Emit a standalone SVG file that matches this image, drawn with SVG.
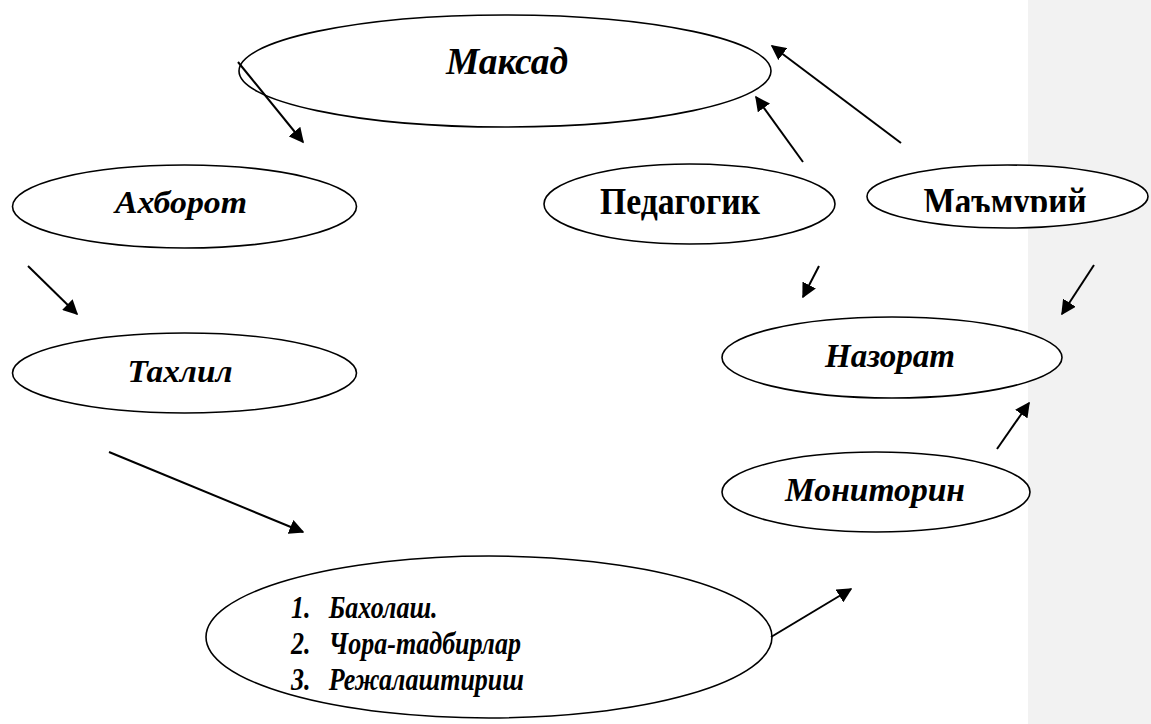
<svg xmlns="http://www.w3.org/2000/svg" width="1151" height="724" viewBox="0 0 1151 724">
<style>
.node ellipse{fill:#fff;stroke:#000;stroke-width:1.6}
.bi{font-family:"Liberation Serif","Times New Roman",serif;font-weight:bold;font-style:italic;fill:#000}
.b{font-family:"Liberation Serif","Times New Roman",serif;font-weight:bold;fill:#000}
.conn line{stroke:#000;stroke-width:2;marker-end:url(#ah)}
</style>
<defs>
<marker id="ah" viewBox="0 0 10 10" refX="9" refY="5" markerWidth="7.5" markerHeight="7.5" markerUnits="strokeWidth" orient="auto">
<path d="M0,0 L10,5 L0,10 z" fill="#000"/>
</marker>
<clipPath id="clipM"><rect x="860" y="150" width="300" height="62"/></clipPath>
</defs>
<rect x="0" y="0" width="1151" height="724" fill="#fff"/>
<rect x="1028" y="0" width="123" height="724" fill="#f2f2f2"/>

<g id="maksad" class="node">
<ellipse cx="505" cy="71" rx="266" ry="56"/>
<text class="bi" x="507" y="74" font-size="38" text-anchor="middle" textLength="122" lengthAdjust="spacingAndGlyphs">Максад</text>
</g>
<g id="axborot" class="node">
<ellipse cx="184.5" cy="206.5" rx="172" ry="41.5"/>
<text class="bi" x="181" y="213" font-size="31" text-anchor="middle" textLength="132" lengthAdjust="spacingAndGlyphs">Ахборот</text>
</g>
<g id="pedagogik" class="node">
<ellipse cx="689.5" cy="204" rx="145.5" ry="40"/>
<text class="b" x="680" y="214" font-size="37" text-anchor="middle" textLength="160" lengthAdjust="spacingAndGlyphs">Педагогик</text>
</g>
<g id="mamuriy" class="node">
<ellipse cx="1007.5" cy="196.5" rx="140.5" ry="31.5"/>
<text class="b" x="1005" y="214" font-size="37" text-anchor="middle" textLength="163" lengthAdjust="spacingAndGlyphs" clip-path="url(#clipM)">Маъмурий</text>
</g>
<g id="taxlil" class="node">
<ellipse cx="184.5" cy="373" rx="172" ry="40"/>
<text class="bi" x="180" y="382" font-size="31" text-anchor="middle" textLength="105" lengthAdjust="spacingAndGlyphs">Тахлил</text>
</g>
<g id="nazorat" class="node">
<ellipse cx="892" cy="357.5" rx="170" ry="40.5"/>
<text class="bi" x="890" y="367" font-size="33" text-anchor="middle" textLength="130" lengthAdjust="spacingAndGlyphs">Назорат</text>
</g>
<g id="monitorin" class="node">
<ellipse cx="876" cy="492" rx="154" ry="40"/>
<text class="bi" x="875" y="501" font-size="33" text-anchor="middle" textLength="180" lengthAdjust="spacingAndGlyphs">Мониторин</text>
</g>
<g id="baholash" class="node">
<ellipse cx="489" cy="637" rx="283" ry="81"/>
<text class="bi" font-size="31" transform="translate(291,0) scale(0.84,1) translate(-291,0)">
<tspan x="291" y="618">1.</tspan><tspan x="336" y="618">Бахолаш.</tspan>
<tspan x="291" y="654">2.</tspan><tspan x="336" y="654">Чора-тадбирлар</tspan>
<tspan x="291" y="690">3.</tspan><tspan x="336" y="690">Режалаштириш</tspan>
</text>
</g>

<g id="connectors" class="conn">
<line x1="238" y1="62" x2="303" y2="142"/>
<line x1="28" y1="266" x2="77" y2="314"/>
<line x1="109" y1="452" x2="303" y2="532"/>
<line x1="803" y1="162" x2="756" y2="97"/>
<line x1="901" y1="143" x2="772" y2="46"/>
<line x1="819" y1="266" x2="803" y2="297"/>
<line x1="1094" y1="265" x2="1062" y2="314"/>
<line x1="997" y1="449" x2="1029" y2="403"/>
<line x1="771" y1="637" x2="851" y2="589"/>
</g>
</svg>
